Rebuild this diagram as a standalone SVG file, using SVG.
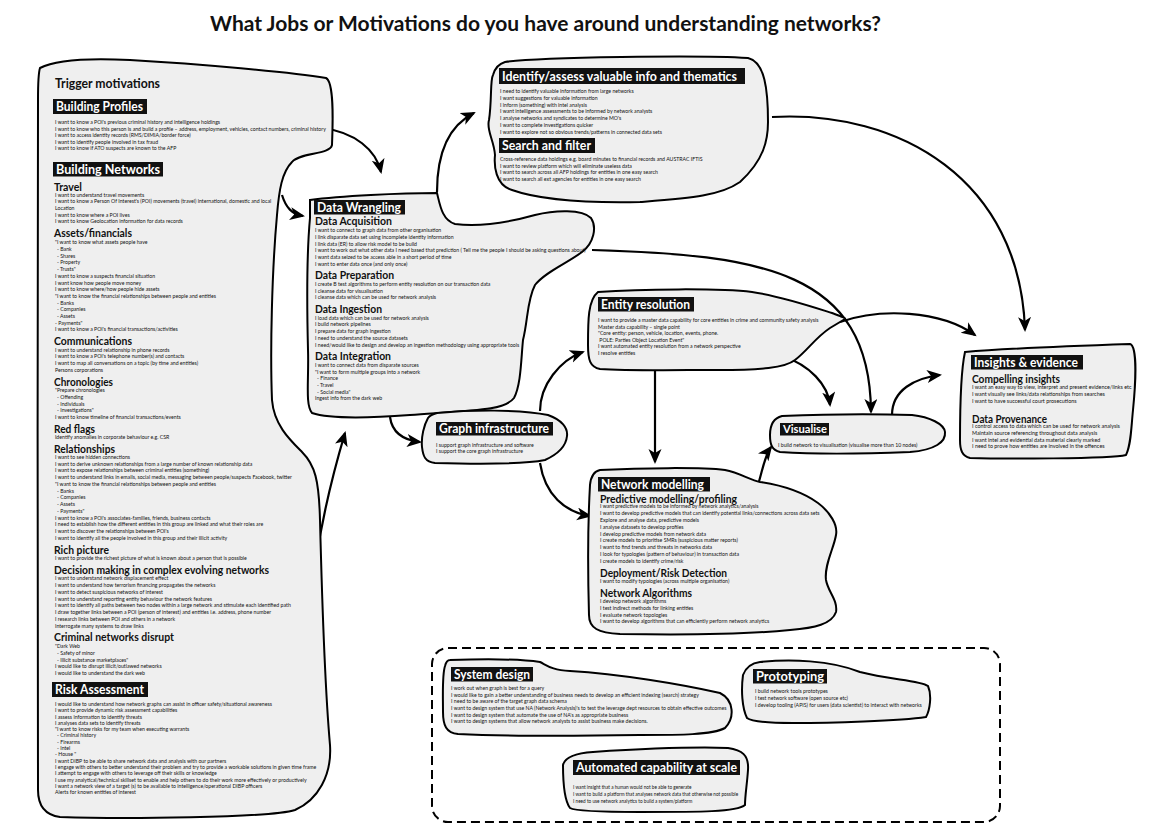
<svg xmlns="http://www.w3.org/2000/svg" width="1168" height="832" viewBox="0 0 1168 832">
<style>
.blob{fill:#efefef;stroke:#000;stroke-width:2}
.b{font-family:Lato,"Open Sans","Liberation Sans",sans-serif;font-size:5.2px;fill:#111}
.bi{font-size:5.4px}
.ba{font-size:4.7px}
.h{font-family:Lato,"Open Sans","Liberation Sans",sans-serif;font-weight:bold;font-size:11px;fill:#111}
.bx{fill:#111}
.bt{font-family:Lato,"Open Sans","Liberation Sans",sans-serif;font-weight:bold;font-size:12.5px;fill:#fff}
.title{font-family:Lato,"Open Sans","Liberation Sans",sans-serif;font-weight:bold;font-size:20.5px;fill:#111}
.arr{fill:none;stroke:#000;stroke-width:2.2;marker-end:url(#ah)}
</style>
<defs>
<marker id="ah" markerUnits="userSpaceOnUse" markerWidth="16" markerHeight="14" refX="13" refY="6.5" orient="auto">
<path d="M0,0 L15,6.5 L0,13 L4,6.5 Z" fill="#000"/>
</marker>
</defs>
<rect width="1168" height="832" fill="#fff"/>
<text class="title" x="210" y="31" textLength="671" lengthAdjust="spacingAndGlyphs">What Jobs or Motivations do you have around understanding networks?</text>

<g id="connectors">
<path class="arr" d="M322 128 C355 132,376 150,381 172"/>
<path class="arr" d="M282 195 C286 208,292 214,303 216"/>
<path class="arr" d="M316 560 C322 520,334 470,345 433"/>
<path class="arr" d="M437 192 C437 150,450 125,474 113"/>
<path class="arr" d="M390 417 C392 432,402 440,420 442"/>
<path class="arr" d="M540 411 C540 385,560 360,583 352"/>
<path class="arr" d="M540 463 C545 495,565 512,590 516"/>
<path class="arr" d="M655 370 L655 462"/>
<path class="arr" d="M758 485 C763 468,765 455,771 447"/>
<path class="arr" d="M592 250 C760 255,870 270,871 412"/>
<path class="arr" d="M782 356 C810 365,828 385,830 405"/>
<path class="arr" d="M840 322 C880 308,940 310,975 335"/>
<path class="arr" d="M772 117 C900 110,1020 180,1025 330"/>
<path class="arr" d="M892 415 C892 390,915 378,940 375"/>
</g>

<g id="trigger">
<path class="blob" d="M40 68 C55 60,90 58,130 60 C200 64,290 72,326 78 C334 82,333 120,332 145 C330 155,300 152,292 162 C282 172,279 190,277 215 C272 270,270 350,272 400 C274 425,290 440,302 452 C315 465,319 480,320 520 C322 600,326 700,330 745 C332 775,318 800,295 810 C270 818,120 819,60 817 C45 815,38 805,38 790 C38 600,37 300,38 100 C38 85,38 74,40 68 Z"/>
<text class="h" x="55" y="88" style="font-size:12.5px" textLength="105" lengthAdjust="spacingAndGlyphs">Trigger motivations</text>
<rect class="bx" x="53" y="99" width="94" height="15"/>
<text class="bt" x="56" y="111" textLength="87" lengthAdjust="spacingAndGlyphs">Building Profiles</text>
<text class="b" y="124"><tspan x="55">I want to know a POI's previous criminal history and intelligence holdings</tspan><tspan x="55" dy="6.5">I want to know who this person is and build a profile – address, employment, vehicles, contact numbers, criminal history</tspan><tspan x="55" dy="6.5">I want to access identity records (RMS/DIMIA/border force)</tspan><tspan x="55" dy="6.5">I want to identify people involved in tax fraud</tspan><tspan x="55" dy="6.5">I want to know if ATO suspects are known to the AFP</tspan></text>
<rect class="bx" x="53" y="162" width="110" height="14.5"/>
<text class="bt" x="56" y="173.5" textLength="104" lengthAdjust="spacingAndGlyphs">Building Networks</text>
<text class="h" x="54" y="190.5" textLength="28" lengthAdjust="spacingAndGlyphs">Travel</text>
<text class="b" y="196.6"><tspan x="55">I want to understand travel movements</tspan><tspan x="55" dy="6.7">I want to know a Person Of Interest's (POI) movements (travel) international, domestic and local</tspan><tspan x="55" dy="6.7">Location</tspan><tspan x="55" dy="6.7">I want to know where a POI lives</tspan><tspan x="55" dy="6.7">I want to know Geolocation information for data records</tspan></text>
<text class="h" x="54" y="236.5" textLength="78" lengthAdjust="spacingAndGlyphs">Assets/financials</text>
<text class="b" y="244.3"><tspan x="55">"I want to know what assets people have</tspan><tspan x="57" dy="6.7">- Bank</tspan><tspan x="57" dy="6.7">- Shares</tspan><tspan x="57" dy="6.7">- Property</tspan><tspan x="57" dy="6.7">- Trusts"</tspan><tspan x="55" dy="6.7">I want to know a suspects financial situation</tspan><tspan x="55" dy="6.7">I want know how people move money</tspan><tspan x="55" dy="6.7">I want to know where/how people hide assets</tspan><tspan x="55" dy="6.7">"I want to know the financial relationships between people and entities</tspan><tspan x="57" dy="6.7">- Banks</tspan><tspan x="57" dy="6.7">- Companies</tspan><tspan x="57" dy="6.7">- Assets</tspan><tspan x="55" dy="6.7">- Payments"</tspan><tspan x="55" dy="6.7">I want to know a POI's financial transactions/activities</tspan></text>
<text class="h" x="54" y="345" textLength="78" lengthAdjust="spacingAndGlyphs">Communications</text>
<text class="b" y="351.6"><tspan x="55">I want to understand relationship in phone records</tspan><tspan x="55" dy="6.7">I want to know a POI's telephone number(s) and contacts</tspan><tspan x="55" dy="6.7">I want to map all conversations on a topic (by time and entities)</tspan><tspan x="55" dy="6.7">Persons corporations</tspan></text>
<text class="h" x="54" y="385.5" textLength="59" lengthAdjust="spacingAndGlyphs">Chronologies</text>
<text class="b" y="392.3"><tspan x="55">"Prepare chronologies</tspan><tspan x="57" dy="6.7">- Offending</tspan><tspan x="57" dy="6.7">- Individuals</tspan><tspan x="57" dy="6.7">- Investigations"</tspan><tspan x="55" dy="6.7">I want to know timeline of financial transactions/events</tspan></text>
<text class="h" x="54" y="432.5" textLength="41" lengthAdjust="spacingAndGlyphs">Red flags</text>
<text class="b" x="55" y="438.9">Identify anomalies in corporate behaviour e.g. CSR</text>
<text class="h" x="54" y="452.5" textLength="61" lengthAdjust="spacingAndGlyphs">Relationships</text>
<text class="b" y="458.9"><tspan x="55">I want to see hidden connections</tspan><tspan x="55" dy="6.75">I want to derive unknown relationships from a large number of known relationship data</tspan><tspan x="55" dy="6.75">I want to expose relationships between criminal entities (something)</tspan><tspan x="55" dy="6.75">I want to understand links in emails, social media, messaging between people/suspects Facebook, twitter</tspan><tspan x="55" dy="6.75">"I want to know the financial relationships between people and entities</tspan><tspan x="57" dy="6.75">- Banks</tspan><tspan x="57" dy="6.75">- Companies</tspan><tspan x="57" dy="6.75">- Assets</tspan><tspan x="57" dy="6.75">- Payments"</tspan><tspan x="55" dy="6.75">I want to know a POI's associates-families, friends, business contacts</tspan><tspan x="55" dy="6.75">I need to establish how the different entities in this group are linked and what their roles are</tspan><tspan x="55" dy="6.75">I want to discover the relationships between POI's</tspan><tspan x="55" dy="6.75">I want to identify all the people involved in this group and their illicit activity</tspan></text>
<text class="h" x="54" y="553.5" textLength="55" lengthAdjust="spacingAndGlyphs">Rich picture</text>
<text class="b" x="55" y="560.3">I want to provide the richest picture of what is known about a person that is possible</text>
<text class="h" x="54" y="574" textLength="215" lengthAdjust="spacingAndGlyphs">Decision making in complex evolving networks</text>
<text class="b" y="580.3"><tspan x="55">I want to understand network displacement effect</tspan><tspan x="55" dy="6.75">I want to understand how terrorism financing propagates the networks</tspan><tspan x="55" dy="6.75">I want to detect suspicious networks of interest</tspan><tspan x="55" dy="6.75">I want to understand reporting entity behaviour the network features</tspan><tspan x="55" dy="6.75">I want to identify all paths between two nodes within a large network and stimulate each identified path</tspan><tspan x="55" dy="6.75">I draw together links between a POI (person of interest) and entities i.e. address, phone number</tspan><tspan x="55" dy="6.75">I research links between POI and others in a network</tspan><tspan x="55" dy="6.75">Interrogate many systems to draw links</tspan></text>
<text class="h" x="54" y="641" textLength="120" lengthAdjust="spacingAndGlyphs">Criminal networks disrupt</text>
<text class="b" y="648.3"><tspan x="55">"Dark Web</tspan><tspan x="57" dy="6.7">- Safety of minor</tspan><tspan x="57" dy="6.7">- Illicit substance marketplaces"</tspan><tspan x="55" dy="6.7">I would like to disrupt illicit/outlawed networks</tspan><tspan x="55" dy="6.7">I would like to understand the dark web</tspan></text>
<rect class="bx" x="52" y="682" width="96" height="15"/>
<text class="bt" x="55" y="694" textLength="89" lengthAdjust="spacingAndGlyphs">Risk Assessment</text>
<text class="b" y="705.9"><tspan x="55">I would like to understand how network graphs can assist in officer safety/situational awareness</tspan><tspan x="55" dy="6.3">I want to provide dynamic risk assessment capabilities</tspan><tspan x="55" dy="6.3">I assess information to identify threats</tspan><tspan x="55" dy="6.3">I analyses data sets to identify threats</tspan><tspan x="55" dy="6.3">"I want to know risks for my team when executing warrants</tspan><tspan x="57" dy="6.3">- Criminal history</tspan><tspan x="57" dy="6.3">- Firearms</tspan><tspan x="57" dy="6.3">- Intel</tspan><tspan x="55" dy="6.3">- House "</tspan><tspan x="55" dy="6.3">I want DIBP to be able to share network data and analysis with our partners</tspan><tspan x="55" dy="6.3">I engage with others to better understand their problem and try to provide a workable solutions in given time frame</tspan><tspan x="55" dy="6.3">I attempt to engage with others to leverage off their skills or knowledge</tspan><tspan x="55" dy="6.3">I use my analytical/technical skillset to enable and help others to do their work more effectively or productively</tspan><tspan x="55" dy="6.3">I want a network view of a target (s) to be available to intelligence/operational DIBP officers</tspan><tspan x="55" dy="6.3">Alerts for known entities of interest</tspan></text>
</g>

<g id="data-wrangling">
<path class="blob" d="M310 200 C340 196,400 193,437 193 C440 205,442 220,455 224 C480 227,510 222,535 215 C555 210,582 209,591 218 C597 227,594 243,582 252 C566 264,545 272,535 285 C527 300,528 320,523 340 C521 360,521 385,514 398 C505 410,480 410,410 415 C370 418,330 419,312 413 C305 405,309 380,308 350 C307 310,307 250,310 218 Z"/>
<rect class="bx" x="314" y="200" width="91" height="14.5"/>
<text class="bt" x="317" y="211.5" textLength="84" lengthAdjust="spacingAndGlyphs">Data Wrangling</text>
<text class="h" x="315" y="224.5" textLength="77" lengthAdjust="spacingAndGlyphs">Data Acquisition</text>
<text class="b" y="231.9"><tspan x="315">I want to connect to graph data from other organisation</tspan><tspan x="315" dy="6.8">I link disparate data set using incomplete identity information</tspan><tspan x="315" dy="6.8">I link data (ER) to allow risk model to be build</tspan><tspan x="315" dy="6.8">I want to work out what other data I need based that prediction ( Tell me the people I should be asking questions about)</tspan><tspan x="315" dy="6.8">I want data seized to be access able in a short period of time</tspan><tspan x="315" dy="6.8">I want to enter data once (and only once)</tspan></text>
<text class="h" x="315" y="279" textLength="79" lengthAdjust="spacingAndGlyphs">Data Preparation</text>
<text class="b" y="285.9"><tspan x="315">I create B test algorithms to perform entity resolution on our transaction data</tspan><tspan x="315" dy="6.7">I cleanse data for visualisation</tspan><tspan x="315" dy="6.7">I cleanse data which can be used for network analysis</tspan></text>
<text class="h" x="315" y="313" textLength="67" lengthAdjust="spacingAndGlyphs">Data Ingestion</text>
<text class="b" y="319.6"><tspan x="315">I load data which can be used for network analysis</tspan><tspan x="315" dy="6.75">I build network pipelines</tspan><tspan x="315" dy="6.75">I prepare data for graph ingestion</tspan><tspan x="315" dy="6.75">I need to understand the source datasets</tspan><tspan x="315" dy="6.75">I need/would like to design and develop an ingestion methodology using appropriate tools</tspan></text>
<text class="h" x="315" y="360" textLength="76" lengthAdjust="spacingAndGlyphs">Data Integration</text>
<text class="b" y="366.9"><tspan x="315">I want to connect data from disparate sources</tspan><tspan x="315" dy="6.7">"I want to form multiple groups into a network</tspan><tspan x="317" dy="6.7">- Finance</tspan><tspan x="317" dy="6.7">- Travel</tspan><tspan x="317" dy="6.7">- Social media"</tspan><tspan x="315" dy="6.7">Ingest info from the dark web</tspan></text>
</g>

<g id="identify">
<path class="blob" d="M505 62 C540 57,700 55,748 58 C765 62,768 90,768 122 C768 140,764 160,740 182 C720 196,690 198,640 202 C590 203,540 200,512 190 C495 185,494 165,495 155 C494 140,486 130,489 120 C492 100,490 80,493 75 C495 68,498 64,505 62 Z"/>
<rect class="bx" x="499" y="68" width="246" height="16"/>
<text class="bt" x="502" y="80.5" textLength="235" lengthAdjust="spacingAndGlyphs">Identify/assess valuable info and thematics</text>
<text class="b" y="93.3"><tspan x="500">I need to identify valuable information from large networks</tspan><tspan x="500" dy="6.7">I want suggestions for valuable information</tspan><tspan x="500" dy="6.7">I inform (something) with intel analysis</tspan><tspan x="500" dy="6.7">I want intelligence assessments to be informed by network analysts</tspan><tspan x="500" dy="6.7">I analyse networks and syndicates to determine MO's</tspan><tspan x="500" dy="6.7">I want to complete investigations quicker</tspan><tspan x="500" dy="6.7">I want to explore not so obvious trends/patterns in connected data sets</tspan></text>
<rect class="bx" x="499" y="138" width="96" height="15"/>
<text class="bt" x="502" y="150" textLength="89" lengthAdjust="spacingAndGlyphs">Search and filter</text>
<text class="b" y="160.9"><tspan x="500">Cross-reference data holdings e.g. board minutes to financial records and AUSTRAC IFTIS</tspan><tspan x="500" dy="6.7">I want to review platform which will eliminate useless data</tspan><tspan x="500" dy="6.7">I want to search across all AFP holdings for entities in one easy search</tspan><tspan x="500" dy="6.7">I want to search all ext agencies for entities in one easy search</tspan></text>
</g>

<g id="entity-resolution">
<path class="blob" d="M598 292 C640 289,720 288,752 292 C780 296,810 306,832 313 C840 316,846 318,845 319 C840 322,835 325,830 328 C815 338,808 350,795 360 C785 368,760 370,718 370 C680 370,630 371,600 369 C590 367,588 360,588 345 C588 320,588 300,598 292 Z"/>
<rect class="bx" x="598" y="297" width="96" height="14.5"/>
<text class="bt" x="601" y="308.5" textLength="89" lengthAdjust="spacingAndGlyphs">Entity resolution</text>
<text class="b" y="321.9"><tspan x="598">I want to provide a master data capability for core entities in crime and community safety analysis</tspan><tspan x="598" dy="6.6">Master data capability – single point</tspan><tspan x="598" dy="6.6">"Core entity: person, vehicle, location, events, phone.</tspan><tspan x="598" dy="6.6"> POLE: Parties Object Location Event"</tspan><tspan x="598" dy="6.6">I want automated entity resolution from a network perspective</tspan><tspan x="598" dy="6.6">I resolve entities</tspan></text>
</g>

<g id="graph-infrastructure">
<path class="blob" d="M437 413 C470 410,520 409,548 415 C562 420,568 428,567 436 C566 447,556 455,545 460 C520 465,470 464,435 463 C425 462,423 456,422 447 C421 437,424 425,428 418 C430 415,433 414,437 413 Z"/>
<rect class="bx" x="436" y="422" width="117" height="13.5"/>
<text class="bt" x="439" y="432.5" textLength="110" lengthAdjust="spacingAndGlyphs">Graph infrastructure</text>
<text class="b" y="446.6"><tspan x="436">I support graph infrastructure and software</tspan><tspan x="436" dy="6.7">I support the core graph infrastructure</tspan></text>
</g>

<g id="visualise">
<path class="blob" d="M782 416 C830 414,880 414,912 415 C930 417,944 424,945 432 C946 442,935 450,910 452 C860 454,810 454,780 452 C772 450,770 445,770 435 C770 425,774 418,782 416 Z"/>
<rect class="bx" x="780" y="423" width="49" height="12.5"/>
<text class="bt" x="783" y="432.5" style="font-size:11.5px" textLength="44" lengthAdjust="spacingAndGlyphs">Visualise</text>
<text class="b" x="778" y="446.6">I build network to visualisation (visualise more than 10 nodes)</text>
</g>

<g id="network-modelling">
<path class="blob" d="M600 470 C640 468,700 467,725 470 C740 473,750 480,760 482 C780 485,800 490,818 503 C830 512,838 525,836 535 C834 548,824 565,826 580 C828 592,838 600,836 612 C832 624,815 628,790 630 C750 634,680 635,620 634 C598 633,589 628,589 615 C588 580,588 520,590 485 C591 475,595 471,600 470 Z"/>
<rect class="bx" x="598" y="477" width="112" height="14.5"/>
<text class="bt" x="601" y="488.5" textLength="103" lengthAdjust="spacingAndGlyphs">Network modelling</text>
<text class="h" x="600" y="503" textLength="137" lengthAdjust="spacingAndGlyphs">Predictive modelling/profiling</text>
<text class="b" y="508.3"><tspan x="600">I want predictive models to be informed by network analytics/analysis</tspan><tspan x="600" dy="6.8">I want to develop predictive models that can identify potential links/connections across data sets</tspan><tspan x="600" dy="6.8">Explore and analyse data, predictive models</tspan><tspan x="600" dy="6.8">I analyse datasets to develop profiles</tspan><tspan x="600" dy="6.8">I develop predictive models from network data</tspan><tspan x="600" dy="6.8">I create models to prioritise SMRs (suspicious matter reports)</tspan><tspan x="600" dy="6.8">I want to find trends and threats in networks data</tspan><tspan x="600" dy="6.8">I look for typologies (pattern of behaviour) in transaction data</tspan><tspan x="600" dy="6.8">I create models to identify crime/risk</tspan></text>
<text class="h" x="600" y="576.5" textLength="127" lengthAdjust="spacingAndGlyphs">Deployment/Risk Detection</text>
<text class="b" x="600" y="582.6">I want to modify typologies (across multiple organisation)</text>
<text class="h" x="600" y="597" textLength="92" lengthAdjust="spacingAndGlyphs">Network Algorithms</text>
<text class="b" y="603.3"><tspan x="600">I develop network algorithms</tspan><tspan x="600" dy="6.7">I test indirect methods for linking entities</tspan><tspan x="600" dy="6.7">I evaluate network topologies</tspan><tspan x="600" dy="6.7">I want to develop algorithms that can efficiently perform network analytics</tspan></text>
</g>

<g id="insights">
<path class="blob" d="M965 352 C1000 349,1100 345,1130 344 C1137 346,1136 380,1133 410 C1131 430,1131 445,1126 455 C1110 459,1000 459,970 458 C962 456,960 450,960 440 C960 410,961 370,965 352 Z"/>
<rect class="bx" x="971" y="355" width="112" height="14.5"/>
<text class="bt" x="974" y="366.5" textLength="104" lengthAdjust="spacingAndGlyphs">Insights &amp; evidence</text>
<text class="h" x="972" y="383" textLength="88" lengthAdjust="spacingAndGlyphs">Compelling insights</text>
<text class="b bi" y="389.3"><tspan x="972">I want an easy way to view, interpret and present evidence/links etc</tspan><tspan x="972" dy="6.7">I want visually see links/data relationships from searches</tspan><tspan x="972" dy="6.7">I want to have successful court prosecutions</tspan></text>
<text class="h" x="972" y="422.5" textLength="75" lengthAdjust="spacingAndGlyphs">Data Provenance</text>
<text class="b bi" y="428.3"><tspan x="972">I control access to data which can be used for network analysis</tspan><tspan x="972" dy="6.7">Maintain source referencing throughout data analysis</tspan><tspan x="972" dy="6.7">I want intel and evidential data material clearly marked</tspan><tspan x="972" dy="6.7">I need to prove how entities are involved in the offences</tspan></text>
</g>

<rect x="432" y="648" width="568" height="174" rx="16" fill="none" stroke="#000" stroke-width="2" stroke-dasharray="9 5"/>

<g id="system-design">
<path class="blob" d="M450 660 C480 659,520 659,540 662 C548 666,552 670,570 671 C620 674,680 684,720 693 C734 700,735 718,725 728 C712 735,680 735,640 735 C580 736,500 736,458 734 C446 733,443 725,443 712 C443 695,442 675,445 666 C446 662,448 660,450 660 Z"/>
<rect class="bx" x="451" y="667" width="82" height="14.5"/>
<text class="bt" x="454" y="678.5" textLength="76" lengthAdjust="spacingAndGlyphs">System design</text>
<text class="b" y="689.9"><tspan x="451">I work out when graph is best for a query</tspan><tspan x="451" dy="6.7">I would like to gain a better understanding of business needs to develop an efficient indexing (search) strategy</tspan><tspan x="451" dy="6.7">I need to be aware of the target graph data schema</tspan><tspan x="451" dy="6.7">I want to design system that use NA (Network Analysis)'s to test the leverage dept resources to obtain effective outcomes</tspan><tspan x="451" dy="6.7">I want to design system that automate the use of NA's as appropriate business</tspan><tspan x="451" dy="6.7">I want to design systems that allow network analysts to assist business make decisions.</tspan></text>
</g>

<g id="prototyping">
<path class="blob" d="M760 662 C790 659,830 660,860 672 C890 680,920 680,928 686 C932 695,930 710,926 717 C900 721,830 723,793 723 C770 723,752 722,747 718 C742 708,741 690,743 675 C746 667,752 663,760 662 Z"/>
<rect class="bx" x="753" y="669" width="74" height="14.5"/>
<text class="bt" x="756" y="680.5" textLength="68" lengthAdjust="spacingAndGlyphs">Prototyping</text>
<text class="b" y="693.3"><tspan x="755">I build network tools prototypes</tspan><tspan x="755" dy="6.65">I test network software (open source etc)</tspan><tspan x="755" dy="6.65">I develop tooling (APIS) for users (data scientist) to interact with networks</tspan></text>
</g>

<g id="automated">
<path class="blob" d="M593 752 C640 749,700 747,728 748 C742 750,749 755,748 770 C747 785,745 795,745 805 C737 812,700 812,640 812 C600 812,575 811,570 808 C564 800,563 780,563 765 C565 757,578 753,593 752 Z"/>
<rect class="bx" x="573" y="760" width="167" height="15"/>
<text class="bt" x="576" y="772" textLength="161" lengthAdjust="spacingAndGlyphs">Automated capability at scale</text>
<text class="b ba" y="789.3"><tspan x="573">I want insight that a human would not be able to generate</tspan><tspan x="573" dy="6.65">I want to build a platform that analyses network data that otherwise not possible</tspan><tspan x="573" dy="6.65">I need to use network analytics to build a system/platform</tspan></text>
</g>
</svg>
